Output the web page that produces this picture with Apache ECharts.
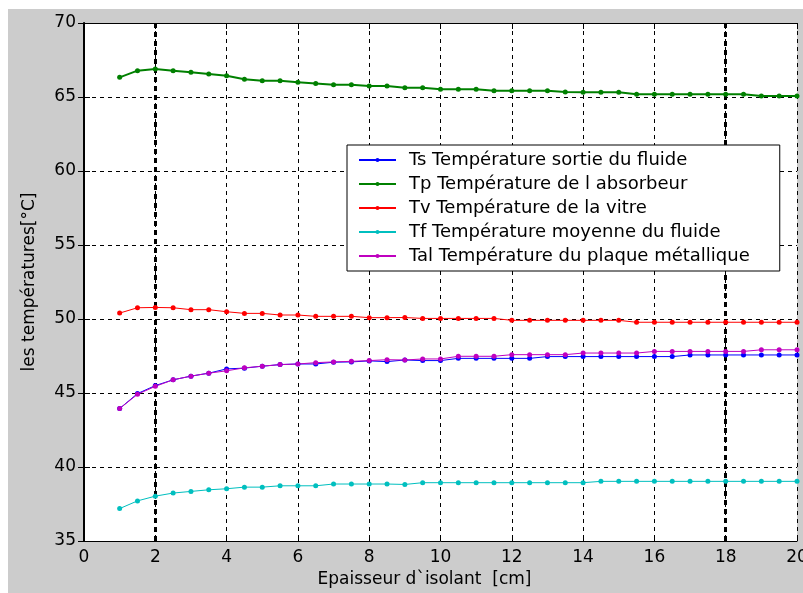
<!DOCTYPE html>
<html>
<head>
<meta charset="utf-8">
<script src="https://cdn.jsdelivr.net/npm/echarts@6/dist/echarts.min.js"></script>
<style>
html,body{margin:0;padding:0;background:#ffffff;width:803px;height:593px;overflow:hidden;}
#chart{position:absolute;left:8px;top:9px;width:795px;height:584px;background:#cccccc;}
</style>
</head>
<body>
<div id="chart"></div>
<script>
// Epaisseur d'isolant [cm]
const xValues = [1,1.5,2,2.5,3,3.5,4,4.5,5,5.5,6,6.5,7,7.5,8,8.5,9,9.5,10,10.5,11,11.5,12,12.5,13,13.5,14,14.5,15,15.5,16,16.5,17,17.5,18,18.5,19,19.5,20];

const seriesNames = [
  "Ts Température sortie du fluide",
  "Tp Température de l absorbeur",
  "Tv Température de la vitre",
  "Tf Température moyenne du fluide",
  "Tal Température du plaque métallique"
];

const Ts = [43.95,44.96,45.50,45.89,46.14,46.34,46.63,46.68,46.81,46.92,46.96,46.96,47.08,47.10,47.17,47.12,
            47.23,47.19,47.19,47.34,47.34,47.34,47.34,47.34,47.46,47.46,47.46,47.46,47.46,47.46,47.46,47.46,
            47.57,47.57,47.57,47.57,47.57,47.57,47.57];
const Tp = [66.33,66.78,66.89,66.78,66.67,66.55,66.44,66.20,66.10,66.10,66.00,65.92,65.83,65.83,65.74,65.74,
            65.63,65.63,65.52,65.52,65.52,65.43,65.43,65.43,65.43,65.34,65.32,65.32,65.32,65.18,65.18,65.18,
            65.18,65.18,65.18,65.18,65.07,65.07,65.07];
const Tv = [50.40,50.76,50.78,50.76,50.63,50.63,50.49,50.38,50.38,50.27,50.27,50.18,50.18,50.18,50.09,50.09,
            50.10,50.04,50.04,50.04,50.04,50.04,49.91,49.91,49.91,49.91,49.91,49.91,49.91,49.78,49.78,49.78,
            49.78,49.78,49.78,49.78,49.78,49.78,49.78];
const Tf = [37.19,37.71,38.03,38.24,38.35,38.46,38.53,38.64,38.64,38.73,38.73,38.73,38.85,38.85,38.85,38.85,
            38.82,38.94,38.94,38.94,38.94,38.94,38.94,38.94,38.94,38.94,38.94,39.03,39.03,39.03,39.03,39.03,
            39.03,39.03,39.03,39.03,39.03,39.03,39.03];
const Tal = [43.95,44.91,45.45,45.89,46.14,46.34,46.50,46.70,46.81,46.92,46.96,47.05,47.10,47.14,47.19,47.25,
             47.23,47.30,47.30,47.48,47.48,47.48,47.59,47.59,47.59,47.59,47.70,47.70,47.70,47.70,47.81,47.81,
             47.81,47.81,47.81,47.81,47.92,47.92,47.92];

const seriesColors = ["#0000ff","#008000","#ff0000","#00bfbf","#bf00bf"];
const seriesWidths = [1,2,1,1,1];
const emphasizedGridX = [2, 18];

const xMin = 0, xMax = 20, xStep = 2;
const yMin = 35, yMax = 70, yStep = 5;

const allData = [Ts, Tp, Tv, Tf, Tal];
const FONT = "DejaVu Sans";

const chart = echarts.init(document.getElementById('chart'), null, {renderer:'canvas'});

const series = allData.map((vals, i) => {
  const s = {
    name: seriesNames[i],
    type: 'line',
    data: vals.map((v, k) => [xValues[k], v]),
    symbol: 'circle',
    symbolSize: 5,
    showSymbol: true,
    color: seriesColors[i],
    lineStyle: { width: seriesWidths[i], color: seriesColors[i] },
    itemStyle: { color: seriesColors[i] },
    emphasis: { disabled: true },
    animation: false,
    z: 3
  };
  if (i === 0) {
    s.markLine = {
      silent: true,
      symbol: ['none','none'],
      label: { show: false },
      lineStyle: { color: '#000', width: 3, type: [5,4] },
      data: emphasizedGridX.map(x => ({ xAxis: x })),
      animation: false,
      z: 1
    };
  }
  return s;
});

chart.setOption({
  animation: false,
  backgroundColor: '#cccccc',
  textStyle: { fontFamily: FONT },
  grid: {
    left: 76, top: 14, right: 6, bottom: 52,
    outerBoundsMode: 'none',
    containLabel: false,
    show: true, backgroundColor: '#ffffff', borderWidth: 0
  },
  legend: {
    orient: 'vertical',
    left: 339, top: 136,
    backgroundColor: '#ffffff',
    borderColor: '#000000',
    borderWidth: 1,
    padding: [5, 30, 5, 11],
    itemGap: 4,
    itemWidth: 37,
    itemHeight: 5,
    selectedMode: false,
    textStyle: { fontFamily: FONT, fontSize: 18, color: '#000', padding: [0,0,0,8], lineHeight: 20 },
    data: seriesNames
  },
  xAxis: [{
    type: 'value', min: xMin, max: xMax, interval: xStep,
    name: 'Epaisseur d`isolant  [cm]',
    nameLocation: 'middle', nameGap: 28,
    nameTextStyle: { fontFamily: FONT, fontSize: 17, color: '#000', padding: [0, 32, 0, 0] },
    axisLine: { show: true, lineStyle: { color: '#000', width: 1 } },
    axisTick: { show: true, inside: true, length: 6, lineStyle: { color: '#000' } },
    axisLabel: { fontFamily: FONT, fontSize: 17, color: '#000', margin: 8 },
    splitLine: { show: true, lineStyle: { color: '#000', width: 1, type: [4,4] } }
  }, {
    type: 'value', min: xMin, max: xMax, interval: xStep, position: 'top',
    axisLine: { show: true, lineStyle: { color: '#000', width: 1 } },
    axisTick: { show: true, inside: true, length: 6, lineStyle: { color: '#000' } },
    axisLabel: { show: false },
    splitLine: { show: false }
  }],
  yAxis: [{
    type: 'value', min: yMin, max: yMax, interval: yStep,
    name: 'les températures[°C]',
    nameLocation: 'middle', nameGap: 46, nameRotate: 90,
    nameTextStyle: { fontFamily: FONT, fontSize: 17, color: '#000' },
    axisLine: { show: true, lineStyle: { color: '#000', width: 1 } },
    axisTick: { show: true, inside: true, length: 6, lineStyle: { color: '#000' } },
    axisLabel: { fontFamily: FONT, fontSize: 17, color: '#000', margin: 8 },
    splitLine: { show: true, lineStyle: { color: '#000', width: 1, type: [4,4] } }
  }, {
    type: 'value', min: yMin, max: yMax, interval: yStep, position: 'right',
    axisLine: { show: true, lineStyle: { color: '#000', width: 2 } },
    axisTick: { show: true, inside: true, length: 6, lineStyle: { color: '#000' } },
    axisLabel: { show: false },
    splitLine: { show: false }
  }],
  series: series
});
</script>
</body>
</html>
